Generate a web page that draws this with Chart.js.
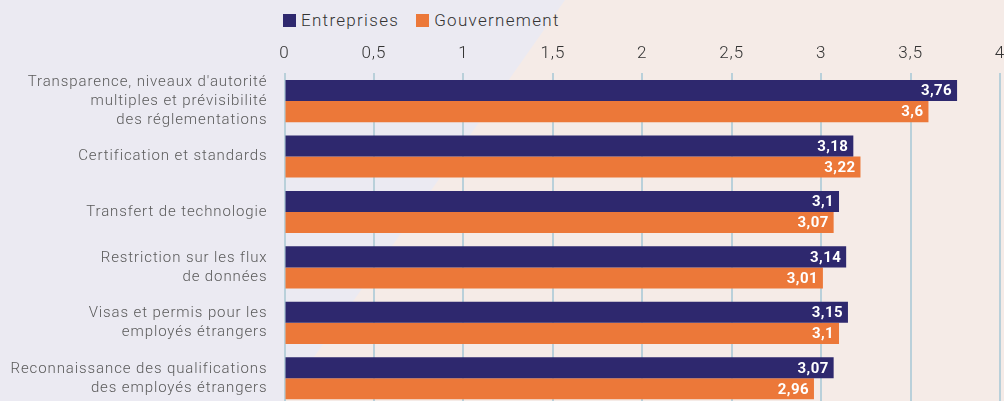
<!DOCTYPE html>
<html lang="fr">
<head>
<meta charset="utf-8">
<script src="https://cdn.jsdelivr.net/npm/chart.js@4.4.1/dist/chart.umd.min.js"></script>
<style>
    html, body { margin: 0; padding: 0; width: 1004px; height: 401px; overflow: hidden; background: #ebeaf2; }
    #bg { position: absolute; left: 0; top: 0; width: 1004px; height: 401px; background: #f5ebe7;
          clip-path: polygon(565px 0, 1004px 0, 1004px 401px, 283px 401px); }
    #barChart { position: absolute; left: 0; top: 0; }
    #legend { position: absolute; left: 283px; top: 10px; font-family: Roboto, sans-serif; font-weight: 300;
              font-size: 17px; letter-spacing: 1.3px; color: #333; display: flex; gap: 17px; }
    #legend span { display: inline-flex; align-items: center; }
    #legend i { display: inline-block; width: 13px; height: 13px; margin-right: 5px; }
</style>
</head>
<body>
<div id="bg"></div>
<div id="legend"></div>
<canvas id="barChart" width="1004" height="406"></canvas>
<script>
const categories = [
    ["Transparence, niveaux d'autorité", "multiples et prévisibilité", "des réglementations"],
    ["Certification et standards"],
    ["Transfert de technologie"],
    ["Restriction sur les flux", "de données"],
    ["Visas et permis pour les", "employés étrangers"],
    ["Reconnaissance des qualifications", "des employés étrangers"]
];
const seriesNames = ['Entreprises', 'Gouvernement'];
const entreprises = [3.76, 3.18, 3.1, 3.14, 3.15, 3.07];
const gouvernement = [3.6, 3.22, 3.07, 3.01, 3.1, 2.96];
const seriesColors = ['#2e286e', '#ec7839'];

const fmt = (v) => String(v).replace('.', ',');

// legend
const legendEl = document.getElementById('legend');
seriesNames.forEach((name, i) => {
    const s = document.createElement('span');
    s.innerHTML = '<i style="background:' + seriesColors[i] + '"></i>' + name;
    legendEl.appendChild(s);
});

// wider letter spacing like the original typeface
const spacing = {
    id: 'spacing',
    beforeDraw(chart) { chart.ctx.letterSpacing = '0.9px'; }
};

const valueLabels = {
    id: 'valueLabels',
    afterDatasetsDraw(chart) {
        const ctx = chart.ctx;
        ctx.save();
        ctx.letterSpacing = '0.4px';
        ctx.font = 'bold 15px Roboto';
        ctx.fillStyle = '#ffffff';
        ctx.textAlign = 'right';
        ctx.textBaseline = 'middle';
        chart.data.datasets.forEach((ds, di) => {
            chart.getDatasetMeta(di).data.forEach((bar, i) => {
                ctx.fillText(fmt(ds.data[i]), bar.x - 5, bar.y + 1);
            });
        });
        ctx.restore();
    }
};

const ctxBar = document.getElementById('barChart').getContext('2d');
new Chart(ctxBar, {
    type: 'bar',
    data: {
        labels: categories,
        datasets: [
            { label: seriesNames[0], data: entreprises, backgroundColor: seriesColors[0] },
            { label: seriesNames[1], data: gouvernement, backgroundColor: seriesColors[1] }
        ]
    },
    options: {
        indexAxis: 'y',
        responsive: false,
        animation: false,
        devicePixelRatio: 1,
        layout: { padding: { top: 35, right: 0, bottom: 0, left: 0 } },
        datasets: { bar: { categoryPercentage: 0.76, barPercentage: 1.0 } },
        scales: {
            x: {
                position: 'top',
                min: 0,
                max: 4,
                afterFit: (scale) => { scale.paddingRight = 4; },
                ticks: {
                    stepSize: 0.5,
                    padding: 9,
                    color: '#333',
                    font: { size: 17, family: 'Roboto', weight: '300' },
                    callback: (v) => fmt(v)
                },
                grid: { color: '#b9d0da', lineWidth: 2, drawTicks: false },
                border: { display: false }
            },
            y: {
                afterFit: (scale) => {
                    scale.width = 284.5;
                    scale.paddingTop = 0;
                    scale.paddingBottom = 0;
                },
                ticks: {
                    autoSkip: false,
                    padding: 17,
                    color: '#5a5a5a',
                    font: { size: 15, family: 'Roboto', weight: '300', lineHeight: 1.27 }
                },
                grid: { display: false, drawTicks: false },
                border: { display: false }
            }
        },
        plugins: {
            legend: { display: false },
            tooltip: { enabled: false }
        }
    },
    plugins: [spacing, valueLabels]
});
</script>
</body>
</html>
